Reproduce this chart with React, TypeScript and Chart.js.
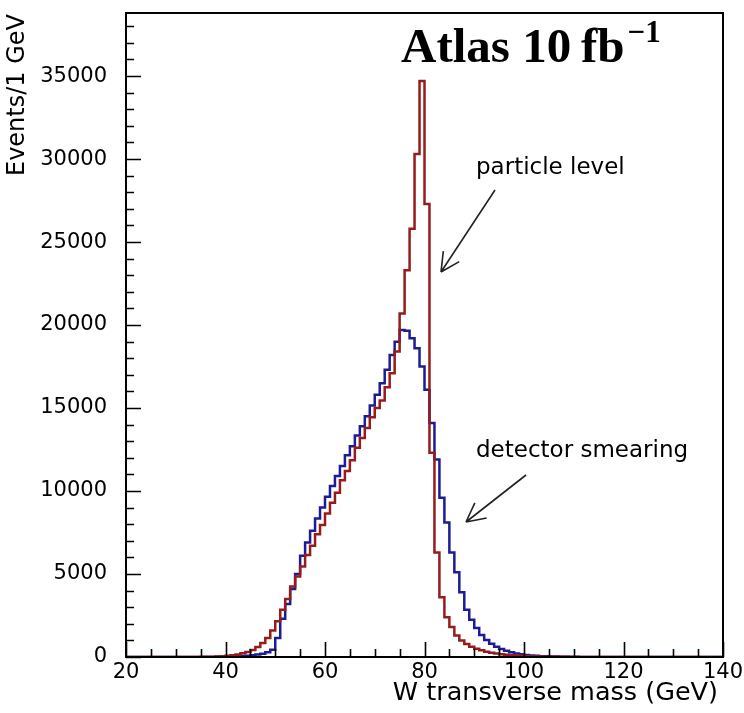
import React, { useEffect, useRef } from 'react';
import { Chart, registerables } from 'chart.js';

Chart.register(...registerables);

// W transverse mass histogram, 1 GeV bins, lower edges 20..139 GeV
const MASS_MIN = 20;
const MASS_MAX = 140;

const particleLevel = [
  0, 0, 0, 0, 0, 0, 0, 0, 0, 0,
  0, 0, 0, 0, 5, 8, 12, 18, 28, 45,
  70, 100, 150, 220, 300, 420, 600, 840, 1150, 1600,
  2150, 2850, 3500, 4250, 4850, 5450, 6150, 6700, 7400, 7950,
  8650, 9300, 9900, 10650, 11200, 11850, 12600, 13200, 13800, 14450,
  15000, 15450, 16250, 17100, 18400, 20700, 23300, 25800, 30300, 34700,
  27300, 12300, 6300, 3600, 2400, 1800, 1300, 1000, 780, 620,
  500, 400, 320, 260, 210, 170, 140, 110, 90, 70,
  55, 45, 35, 28, 22, 17, 13, 10, 8, 6,
  5, 4, 4, 3, 3, 2, 2, 2, 1, 1,
  0, 0, 0, 0, 0, 0, 0, 0, 0, 0,
  0, 0, 0, 0, 0, 0, 0, 0, 0, 0,
];

const detectorSmearing = [
  0, 0, 0, 0, 0, 0, 0, 0, 0, 0,
  0, 0, 0, 0, 0, 2, 4, 6, 9, 13,
  20, 28, 40, 55, 75, 105, 145, 200, 280, 430,
  1150, 2300, 3200, 4100, 5000, 6100, 6900, 7600, 8350, 9000,
  9650, 10300, 10900, 11500, 12150, 12700, 13350, 13900, 14500, 15150,
  15800, 16500, 17300, 18200, 19000, 19700, 19650, 19200, 18600, 17500,
  16100, 14100, 11900, 9600, 8100, 6300, 5100, 3900, 2850, 2250,
  1750, 1330, 1020, 800, 620, 480, 370, 280, 210, 160,
  120, 90, 70, 52, 40, 30, 24, 18, 14, 11,
  9, 7, 6, 5, 4, 3, 3, 2, 2, 1,
  0, 0, 0, 0, 0, 0, 0, 0, 0, 0,
  0, 0, 0, 0, 0, 0, 0, 0, 0, 0,
];

const xTickValues = [20, 40, 60, 80, 100, 120, 140];
const yTickValues = [0, 5000, 10000, 15000, 20000, 25000, 30000, 35000];
const Y_MAX = 38800;

const RED = 'rgb(150, 28, 28)';
const BLUE = 'rgb(28, 28, 150)';
const SANS = "'DejaVu Sans', sans-serif";

function toSteps(values: number[]) {
  const pts = values.map((v, i) => ({ x: MASS_MIN + i, y: v }));
  pts.push({ x: MASS_MIN + values.length, y: values[values.length - 1] });
  return pts;
}

function arrow(ctx: CanvasRenderingContext2D, x0: number, y0: number, x1: number, y1: number) {
  const ang = Math.atan2(y1 - y0, x1 - x0);
  const head = 21;
  const spread = (27 * Math.PI) / 180;
  ctx.beginPath();
  ctx.moveTo(x0, y0);
  ctx.lineTo(x1, y1);
  ctx.moveTo(x1, y1);
  ctx.lineTo(x1 - head * Math.cos(ang - spread), y1 - head * Math.sin(ang - spread));
  ctx.moveTo(x1, y1);
  ctx.lineTo(x1 - head * Math.cos(ang + spread), y1 - head * Math.sin(ang + spread));
  ctx.stroke();
}

const decorPlugin = {
  id: 'decor',
  afterDatasetsDraw(chart: any) {
    const { ctx, chartArea: a, scales } = chart;
    const xs = scales.x;
    const ys = scales.y;
    ctx.save();
    ctx.strokeStyle = '#000';
    ctx.lineWidth = 2;
    ctx.strokeRect(a.left, a.top, a.right - a.left, a.bottom - a.top);
    ctx.lineWidth = 1.6;
    ctx.beginPath();
    for (let v = 0; v <= Y_MAX; v += 1000) {
      const py = Math.round(ys.getPixelForValue(v)) + 0.5;
      const len = v % 5000 === 0 ? 15 : 8;
      ctx.moveTo(a.left, py);
      ctx.lineTo(a.left + len, py);
    }
    for (let v = MASS_MIN; v <= MASS_MAX; v += 5) {
      const px = Math.round(xs.getPixelForValue(v)) + 0.5;
      const len = v % 20 === 0 ? 15 : 8;
      ctx.moveTo(px, a.bottom);
      ctx.lineTo(px, a.bottom - len);
    }
    ctx.stroke();
    ctx.restore();
  },
  afterDraw(chart: any) {
    const { ctx } = chart;
    ctx.save();
    ctx.fillStyle = '#000';
    // y axis title
    ctx.save();
    ctx.translate(18, 14);
    ctx.rotate(-Math.PI / 2);
    ctx.font = `24px ${SANS}`;
    ctx.textAlign = 'right';
    ctx.textBaseline = 'middle';
    ctx.fillText('Events/1 GeV', 0, 0);
    ctx.restore();
    // x axis title
    ctx.font = `25.5px ${SANS}`;
    ctx.textAlign = 'right';
    ctx.textBaseline = 'alphabetic';
    ctx.fillText('W transverse mass (GeV)', 718, 700);
    // big title
    ctx.textAlign = 'left';
    ctx.font = "bold 49px 'Liberation Serif', serif";
    const main = 'Atlas 10\u2009fb';
    ctx.fillText(main, 401, 62);
    const w = ctx.measureText(main).width;
    ctx.font = "bold 31px 'Liberation Serif', serif";
    ctx.fillText('\u22121', 401 + w + 3, 42);
    // annotations
    ctx.font = `23px ${SANS}`;
    ctx.fillText('particle level', 476, 174);
    ctx.fillText('detector smearing', 476, 457);
    ctx.strokeStyle = '#222';
    ctx.lineWidth = 1.6;
    arrow(ctx, 495, 190, 441, 272);
    arrow(ctx, 526, 475, 466, 522);
    ctx.restore();
  },
};

export default function App() {
  const canvasRef = useRef<HTMLCanvasElement | null>(null);

  useEffect(() => {
    if (!canvasRef.current) return;
    const chart = new Chart(canvasRef.current, {
      type: 'line',
      data: {
        datasets: [
          {
            label: 'particle level',
            data: toSteps(particleLevel),
            stepped: true,
            borderColor: RED,
            borderWidth: 2.5,
            pointRadius: 0,
            fill: false,
          },
          {
            label: 'detector smearing',
            data: toSteps(detectorSmearing),
            stepped: true,
            borderColor: BLUE,
            borderWidth: 2.5,
            pointRadius: 0,
            fill: false,
          },
        ],
      },
      options: {
        animation: false,
        responsive: true,
        maintainAspectRatio: false,
        layout: { padding: { top: 13, right: 21, left: 0, bottom: 0 } },
        plugins: { legend: { display: false }, tooltip: { enabled: false } },
        scales: {
          x: {
            type: 'linear',
            min: MASS_MIN,
            max: MASS_MAX,
            grid: { display: false },
            border: { display: false },
            ticks: {
              color: '#000',
              font: { family: SANS, size: 21 },
              padding: -5,
              maxRotation: 0,
              autoSkip: false,
              callback: (v: any) => String(v),
            },
            afterBuildTicks: (axis: any) => {
              axis.ticks = xTickValues.map((v) => ({ value: v }));
            },
            afterFit: (s: any) => {
              s.height = 56;
              s.paddingLeft = 0;
              s.paddingRight = 0;
            },
          },
          y: {
            type: 'linear',
            min: 0,
            max: Y_MAX,
            grid: { display: false },
            border: { display: false },
            ticks: {
              color: '#000',
              font: { family: SANS, size: 21 },
              padding: 11,
              autoSkip: false,
              callback: (v: any) => String(v),
            },
            afterBuildTicks: (axis: any) => {
              axis.ticks = yTickValues.map((v) => ({ value: v }));
            },
            afterFit: (s: any) => {
              s.width = 126;
              s.paddingTop = 0;
              s.paddingBottom = 0;
            },
          },
        },
      },
      plugins: [decorPlugin],
    });
    return () => chart.destroy();
  }, []);

  return (
    <div style={{ position: 'absolute', left: 0, top: 0, width: 744, height: 713, background: '#fff' }}>
      <canvas ref={canvasRef} style={{ display: 'block' }} />
    </div>
  );
}
